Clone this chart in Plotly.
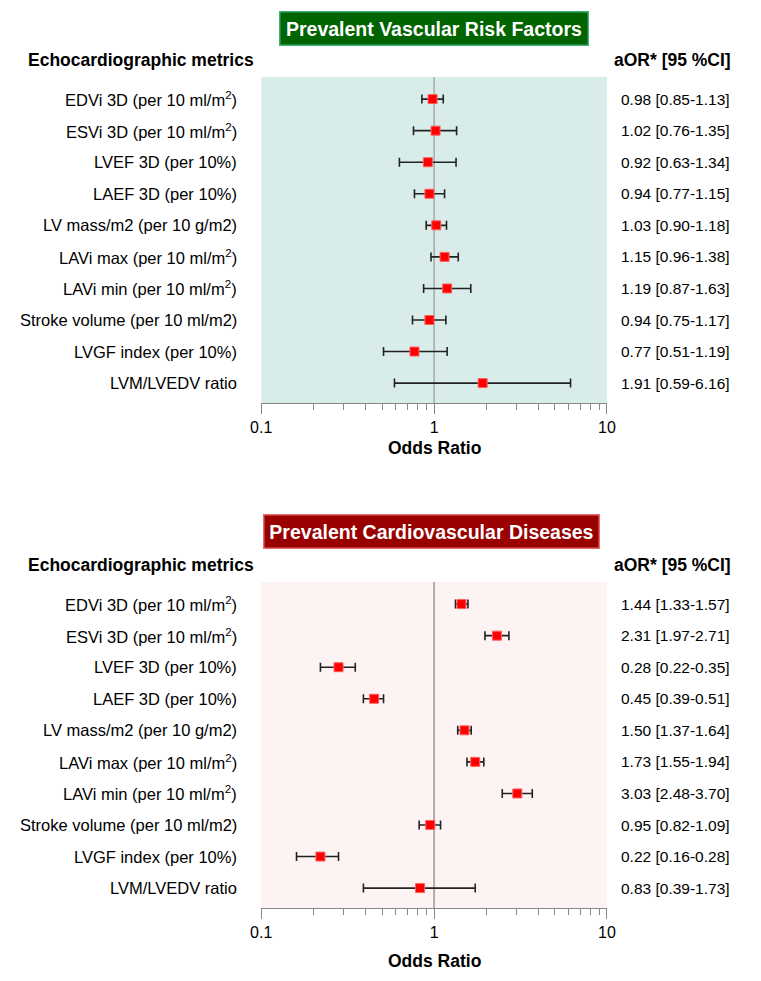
import plotly.graph_objects as go

metrics = [
    "EDVi 3D (per 10 ml/m<sup>2</sup>)",
    "ESVi 3D (per 10 ml/m<sup>2</sup>)",
    "LVEF 3D (per 10%)",
    "LAEF 3D (per 10%)",
    "LV mass/m2 (per 10 g/m2)",
    "LAVi max (per 10 ml/m<sup>2</sup>)",
    "LAVi min (per 10 ml/m<sup>2</sup>)",
    "Stroke volume (per 10 ml/m2)",
    "LVGF index (per 10%)",
    "LVM/LVEDV ratio",
]

vrf_or = [0.98, 1.02, 0.92, 0.94, 1.03, 1.15, 1.19, 0.94, 0.77, 1.91]
vrf_lo = [0.85, 0.76, 0.63, 0.77, 0.90, 0.96, 0.87, 0.75, 0.51, 0.59]
vrf_hi = [1.13, 1.35, 1.34, 1.15, 1.18, 1.38, 1.63, 1.17, 1.19, 6.16]

cvd_or = [1.44, 2.31, 0.28, 0.45, 1.50, 1.73, 3.03, 0.95, 0.22, 0.83]
cvd_lo = [1.33, 1.97, 0.22, 0.39, 1.37, 1.55, 2.48, 0.82, 0.16, 0.39]
cvd_hi = [1.57, 2.71, 0.35, 0.51, 1.64, 1.94, 3.70, 1.09, 0.28, 1.73]

tick_vals = [0.1, 1, 10]
tick_text = ["0.1", "1", "10"]
minor_vals = [0.2, 0.3, 0.4, 0.5, 0.6, 0.7, 0.8, 0.9, 2, 3, 4, 5, 6, 7, 8, 9]

W, H = 761, 981
FONT = "Liberation Sans, Arial, sans-serif"
NARROW = "Liberation Sans Narrow, Arial Narrow, Liberation Sans, sans-serif"

def px_x(x):
    return x / W

def px_y(y):
    return 1 - y / H

fig = go.Figure()

panels = [
    dict(ors=vrf_or, lo=vrf_lo, hi=vrf_hi, top=77, bot=403, bg="#d8ece9",
         title="Prevalent Vascular Risk Factors", tfill="#006400", tborder="#3fb07a",
         tcx=434, tcy=28.5, tw=305, head_y=60, xt_y=418, xlab_y=448, vline="#8a8a8a", vw=1,
         xa="x", ya="y"),
    dict(ors=cvd_or, lo=cvd_lo, hi=cvd_hi, top=582, bot=908, bg="#fdf3f3",
         title="Prevalent Cardiovascular Diseases", tfill="#990000", tborder="#e86a6a",
         tcx=431.5, tcy=531, tw=332, head_y=565, xt_y=930, xlab_y=961, vline="#b4acac", vw=2,
         xa="x2", ya="y2"),
]

n = len(metrics)
yvals = list(range(n))
annotations = []
shapes = []
for i, p in enumerate(panels):
    sfx = "" if i == 0 else "2"
    ep = [h - o for h, o in zip(p["hi"], p["ors"])]
    em = [o - l for o, l in zip(p["ors"], p["lo"])]
    fig.add_trace(go.Scatter(
        x=p["ors"], y=yvals, mode="markers",
        xaxis=p["xa"], yaxis=p["ya"],
        marker=dict(symbol="square", size=9, color="#ff0000",
                    line=dict(color="#ff6060", width=1)),
        error_x=dict(type="data", symmetric=False, array=ep, arrayminus=em,
                     color="#222222", thickness=1.6, width=4.5),
        showlegend=False, hoverinfo="x+y",
    ))
    dom_y = [px_y(p["bot"]), px_y(p["top"])]
    fig.update_layout(**{
        "xaxis" + sfx: dict(
            type="log", range=[-1, 1], domain=[px_x(257), px_x(612)],
            anchor="y" + sfx, showgrid=False, zeroline=False,
            showline=True, linecolor="#888888", linewidth=1,
            ticks="outside", ticklen=10, tickcolor="#888888", tickwidth=1,
            tickvals=tick_vals, ticktext=tick_text,
            tickfont=dict(family=FONT, size=16, color="#000"),
            minor=dict(tickmode="array", tickvals=minor_vals, ticks="outside",
                       ticklen=6, tickcolor="#888888", tickwidth=1, showgrid=False),
        ),
        "yaxis" + sfx: dict(
            domain=dom_y, anchor="x" + sfx, range=[n - 1 + 0.63, -0.7],
            showticklabels=False, showgrid=False, zeroline=False, showline=False,
            ticks="",
        ),
    })
    xref = "x" + sfx + " domain"
    yref = "y" + sfx + " domain"
    shapes.append(dict(type="rect", xref=xref, yref=yref, x0=0, x1=1, y0=0, y1=1,
                       fillcolor=p["bg"], line=dict(width=0), layer="below"))
    shapes.append(dict(type="line", xref="x" + sfx, yref=yref, x0=1, x1=1, y0=0, y1=1,
                       line=dict(color=p["vline"], width=p["vw"]), layer="below"))
    for k in range(n):
        annotations.append(dict(
            text=metrics[k], x=px_x(234), y=k, xref="paper", yref="y" + sfx,
            xanchor="right", yanchor="middle", showarrow=False,
            font=dict(family=FONT, size=16.5, color="#000")))
        annotations.append(dict(
            text=f"{p['ors'][k]:.2f} [{p['lo'][k]:.2f}-{p['hi'][k]:.2f}]",
            x=px_x(740), y=k, xref="paper", yref="y" + sfx,
            xanchor="right", yanchor="middle", showarrow=False,
            font=dict(family=NARROW, size=15.5, color="#000")))
    annotations.append(dict(text="<b>Echocardiographic metrics</b>", x=px_x(15), y=px_y(p["head_y"]),
                            xref="paper", yref="paper", xanchor="left", yanchor="middle",
                            showarrow=False, font=dict(family=FONT, size=17.5, color="#000")))
    annotations.append(dict(text="<b>aOR* [95 %CI]</b>", x=px_x(741), y=px_y(p["head_y"]),
                            xref="paper", yref="paper", xanchor="right", yanchor="middle",
                            showarrow=False, font=dict(family=FONT, size=17.5, color="#000")))
    annotations.append(dict(text="<b>Odds Ratio</b>", x=px_x(435), y=px_y(p["xlab_y"]),
                            xref="paper", yref="paper", xanchor="center", yanchor="middle",
                            showarrow=False, font=dict(family=FONT, size=17.5, color="#000")))
    annotations.append(dict(text="<b>" + p["title"] + "</b>", x=px_x(p["tcx"]), y=px_y(p["tcy"]),
                            xref="paper", yref="paper", xanchor="center", yanchor="middle",
                            showarrow=False, width=p["tw"], height=30, borderpad=1,
                            bgcolor=p["tfill"], bordercolor=p["tborder"], borderwidth=1.5,
                            font=dict(family=FONT, size=19.5, color="#ffffff")))

fig.update_layout(
    width=W, height=H, margin=dict(l=0, r=0, t=0, b=0),
    paper_bgcolor="#ffffff", plot_bgcolor="rgba(0,0,0,0)",
    annotations=annotations, shapes=shapes,
    font=dict(family=FONT),
)

fig.write_html(
    "out.html",
    config={"displayModeBar": False},
    post_script="document.body.style.margin='0';document.documentElement.style.overflow='hidden';",
)
